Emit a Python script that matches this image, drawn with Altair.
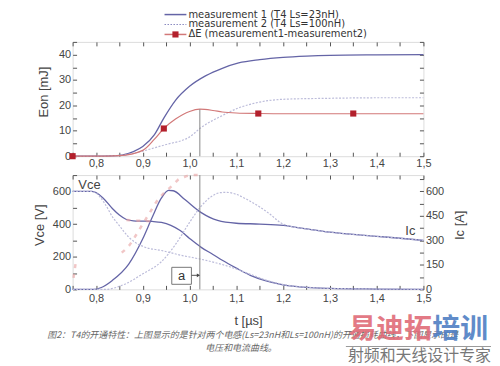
import altair as alt
import pandas as pd

# ---------------- data ----------------
# top panel: Eon [mJ]
e1_t = [0.75, 0.80, 0.83, 0.855, 0.88, 0.90, 0.925, 0.945, 0.97, 1.00, 1.035, 1.07, 1.105, 1.15, 1.20, 1.25, 1.30, 1.40, 1.50]
e1_v = [0, 0, 0.1, 0.4, 1.8, 3.8, 8.5, 15, 22, 27.5, 31.7, 34.6, 36.7, 38, 38.9, 39.4, 39.7, 39.9, 40]
e2_t = [0.75, 0.80, 0.85, 0.90, 0.925, 0.95, 1.00, 1.025, 1.07, 1.105, 1.15, 1.20, 1.30, 1.40, 1.50]
e2_v = [0, 0, 0.3, 2, 3.3, 4.6, 7.6, 11.3, 16, 19, 21.3, 22.4, 22.8, 23, 23]
de_t = [0.75, 0.80, 0.85, 0.90, 0.925, 0.945, 0.97, 1.00, 1.022, 1.05, 1.07, 1.10, 1.15, 1.20, 1.30, 1.40, 1.50]
de_v = [0, 0, 0.2, 2.3, 6.7, 10.9, 14.6, 17.6, 18.5, 18.0, 17.4, 17.0, 16.8, 16.7, 16.7, 16.7, 16.7]
dm_t = [0.75, 0.945, 1.147, 1.35]
dm_v = [0, 10.9, 16.8, 16.8]

# bottom panel: Vce [V], Ic [A]
v1_t = [0.75, 0.79, 0.80, 0.815, 0.835, 0.85, 0.865, 0.88, 0.90, 0.92, 0.94, 0.96, 0.98, 1.00, 1.025, 1.05, 1.07, 1.10, 1.13, 1.16, 1.20, 1.25, 1.30, 1.40, 1.50]
v1_v = [600, 600, 592, 560, 495, 455, 428, 420, 418, 416, 410, 392, 360, 312, 257, 214, 178, 130, 86, 55, 28, 12, 6, 2, 0]
v2_t = [0.75, 0.79, 0.80, 0.82, 0.835, 0.85, 0.87, 0.885, 0.905, 0.94, 0.98, 1.025, 1.06, 1.10, 1.13, 1.16, 1.20, 1.25, 1.30, 1.40, 1.50]
v2_v = [600, 600, 590, 520, 445, 390, 320, 285, 258, 238, 210, 184, 160, 125, 92, 60, 30, 13, 6, 2, 0]
i1_t = [0.75, 0.795, 0.81, 0.835, 0.87, 0.90, 0.92, 0.94, 0.955, 0.965, 0.99, 1.025, 1.06, 1.10, 1.15, 1.20, 1.25, 1.30, 1.35, 1.40, 1.45, 1.50]
i1_v = [0, 0, 10, 55, 155, 310, 440, 560, 606, 604, 550, 470, 422, 405, 400, 392, 370, 350, 337, 325, 313, 300]
i2_t = [0.75, 0.82, 0.86, 0.90, 0.94, 0.97, 1.00, 1.025, 1.045, 1.065, 1.08, 1.10, 1.12, 1.15, 1.17, 1.20, 1.25, 1.30, 1.40, 1.50]
i2_v = [0, 0, 30, 95, 170, 275, 410, 510, 565, 592, 594, 582, 555, 505, 465, 400, 370, 350, 325, 300]
# faint red trace (scatter) in the lower panel
r1_t = [0.855, 0.87, 0.885, 0.90, 0.915, 0.93, 0.945, 0.955, 0.965, 0.975, 0.99, 1.005, 1.02]
r1_v = [225, 265, 330, 400, 470, 540, 590, 615, 640, 670, 690, 700, 700]
r2_t = [0.865, 0.88, 0.895, 0.91, 0.925]
r2_v = [425, 422, 420, 418, 416]
r3_t = [0.752, 0.755, 0.758]
r3_v = [70, 130, 190]

# marker line "a"
a_t = [1.022]
a_top = [18.5]
a_low = [0, 700]
a_box_t = [0.962, 1.004]
a_box_v = [31, 135]
a_label_t = [0.983]
a_label_v = [83]
a_arrow_t = [1.004, 1.019]
a_arrow_v = [86]

# ticks
x_ticks = [0.75, 0.80, 0.85, 0.90, 0.95, 1.00, 1.05, 1.10, 1.15, 1.20, 1.25, 1.30, 1.35, 1.40, 1.45, 1.50]
e_ticks = [0, 5, 10, 15, 20, 25, 30, 35, 40, 45]
v_ticks = [0, 100, 200, 300, 400, 500, 600, 700]
i_ticks = [0, 75, 150, 225, 300, 375, 450, 525, 600, 675]

legend_names = ["measurement 1 (T4 Ls=23nH)", "measurement 2 (T4 Ls=100nH)", "\u0394E (measurement1-measurement2)"]
caption1 = "图2：T4的开通特性：上图显示的是针对两个电感(Ls=23nH和Ls=100nH)的开通损耗曲线，下图显示的是"
caption2 = "电压和电流曲线。"
wm_red = "易迪拓"
wm_blue = "培训"
wm_sub = "射频和天线设计专家"

# ---------------- styles ----------------
W, H = 353, 115
C1 = "#6464a6"
C2 = "#bcbcda"
CR = "#d27878"
CM = "#b3202c"
CRED_SCAT = "#e8a0a0"
FONT = "Liberation Sans"

xs = alt.Scale(domain=[0.75, 1.5], nice=False, zero=False)
ys_e = alt.Scale(domain=[0, 45], nice=False)
ys_v = alt.Scale(domain=[0, 700], nice=False)

x_lab = "(round(datum.value*100) % 10 == 0) ? replace(format(datum.value, '.1f'), '.', ',') : ''"

ax = dict(domain=False, grid=False, ticks=True, tickSize=4, offset=-4, tickColor="#555",
          labelColor="#444", labelFont=FONT, labelFontSize=11, labelFlush=False, titleFont=FONT,
          titleFontSize=13, titleColor="#444", titleFontWeight="normal")


def df(t, v):
    return pd.DataFrame({"t": t, "v": v})


def line(t, v, color, width=1.3, dash=None, xaxis=None, yaxis=None, yscale=None, opacity=1.0):
    kw = dict(color=color, strokeWidth=width, interpolate="monotone", opacity=opacity, clip=False)
    if dash:
        kw["strokeDash"] = dash
    return alt.Chart(df(t, v)).mark_line(**kw).encode(
        x=alt.X("t:Q", scale=xs, axis=xaxis),
        y=alt.Y("v:Q", scale=yscale, axis=yaxis),
    )


# ---------------- top panel ----------------
top_axes_a = line(e1_t, e1_v, C1,
                  xaxis=alt.Axis(orient="bottom", values=x_ticks, labelExpr=x_lab, title=None, labelPadding=1, **ax),
                  yaxis=alt.Axis(orient="left", values=e_ticks, title="Eon [mJ]", titlePadding=8, titleY=50,
                                 labelExpr="(datum.value % 10 == 0) ? datum.label : ''", **ax),
                  yscale=ys_e)
top_axes_b = line(e1_t, e1_v, C1, opacity=0,
                  xaxis=alt.Axis(orient="top", values=x_ticks, labels=False, title=None, **ax),
                  yaxis=alt.Axis(orient="right", values=e_ticks, labels=False, title=None, **ax),
                  yscale=ys_e)
top_m2 = line(e2_t, e2_v, C2, width=1.2, dash=[2, 1.5], yscale=ys_e)
top_de = line(de_t, de_v, CR, width=1.2, yscale=ys_e)
top_mk = alt.Chart(df(dm_t, dm_v)).mark_point(shape="square", filled=True, color=CM, size=38, opacity=1, clip=False).encode(
    x=alt.X("t:Q", scale=xs, axis=None), y=alt.Y("v:Q", scale=ys_e, axis=None))
top_rule = alt.Chart(pd.DataFrame({"t": a_t, "y0": [0], "y1": a_top})).mark_rule(color="#888", strokeWidth=1).encode(
    x=alt.X("t:Q", scale=xs, axis=None), y=alt.Y("y0:Q", scale=ys_e, axis=None), y2="y1:Q")

leg_df = pd.DataFrame({"name": legend_names})
LX0, LX1, LTX = 92.5, 114.5, 116.5
LY = [-27.5, -17.5, -7.5]
leg1 = alt.Chart(leg_df.iloc[[0]]).mark_rule(color=C1, strokeWidth=1.5).encode(
    x=alt.value(LX0), x2=alt.value(LX1), y=alt.value(LY[0]))
leg2 = alt.Chart(leg_df.iloc[[1]]).mark_rule(color="#8a8ac0", strokeWidth=1.2, strokeDash=[1.5, 1.5]).encode(
    x=alt.value(LX0), x2=alt.value(LX1), y=alt.value(LY[1]))
leg3 = alt.Chart(leg_df.iloc[[2]]).mark_rule(color=CR, strokeWidth=1.5).encode(
    x=alt.value(LX0), x2=alt.value(LX1), y=alt.value(LY[2]))
leg3m = alt.Chart(leg_df.iloc[[2]]).mark_point(shape="square", filled=True, color=CM, size=38, opacity=1).encode(
    x=alt.value((LX0 + LX1) / 2), y=alt.value(LY[2]))
leg_txt = [
    alt.Chart(leg_df.iloc[[i]]).mark_text(align="left", baseline="middle", font="DejaVu Sans", fontSize=10,
                                           color="#333").encode(x=alt.value(LTX), y=alt.value(LY[i]), text="name:N")
    for i in range(3)
]

top = alt.layer(top_axes_a, top_axes_b, top_m2, top_de, top_rule, top_mk,
                leg1, leg2, leg3, leg3m, *leg_txt).resolve_axis(x="independent", y="independent").properties(width=W, height=H)

# ---------------- bottom panel ----------------
bot_v1 = line(v1_t, v1_v, C1,
              xaxis=alt.Axis(orient="bottom", values=x_ticks, labelExpr=x_lab, title="t [µs]", labelPadding=3,
                             titlePadding=11, **ax),
              yaxis=alt.Axis(orient="left", values=v_ticks, title="Vce [V]", titlePadding=6, titleY=50,
                             labelExpr="(datum.value % 200 == 0) ? datum.label : ''", **ax),
              yscale=ys_v)
bot_i1 = line(i1_t, i1_v, C1,
              xaxis=alt.Axis(orient="top", values=x_ticks, labels=False, title=None, **ax),
              yaxis=alt.Axis(orient="right", values=i_ticks, title="Ic [A]", titleAngle=270, titleBaseline="top",
                             titlePadding=10, titleY=50,
                             labelExpr="(datum.value % 150 == 0) ? datum.label : ''", **ax),
              yscale=ys_v)
bot_v2 = line(v2_t, v2_v, C2, width=1.2, dash=[2, 1.5], yscale=ys_v)
bot_i2 = line(i2_t, i2_v, C2, width=1.2, dash=[2, 1.5], yscale=ys_v)
bot_r1 = line(r1_t, r1_v, CRED_SCAT, width=2.5, dash=[4, 6], yscale=ys_v, opacity=0.6)
bot_r2 = line(r2_t, r2_v, CRED_SCAT, width=2.5, dash=[4, 6], yscale=ys_v, opacity=0.6)
bot_r3 = line(r3_t, r3_v, CRED_SCAT, width=2.5, dash=[4, 6], yscale=ys_v, opacity=0.6)

bot_rule = alt.Chart(pd.DataFrame({"t": a_t, "y0": [a_low[0]], "y1": [a_low[1]]})).mark_rule(color="#888", strokeWidth=1).encode(
    x=alt.X("t:Q", scale=xs, axis=None), y=alt.Y("y0:Q", scale=ys_v, axis=None), y2="y1:Q")
bot_box = alt.Chart(pd.DataFrame({"t0": [a_box_t[0]], "t1": [a_box_t[1]], "v0": [a_box_v[0]], "v1": [a_box_v[1]]})).mark_rect(
    fill="white", stroke="#777", strokeWidth=1).encode(
    x=alt.X("t0:Q", scale=xs, axis=None), x2="t1:Q", y=alt.Y("v0:Q", scale=ys_v, axis=None), y2="v1:Q")
bot_alabel = alt.Chart(pd.DataFrame({"t": a_label_t, "v": a_label_v, "s": ["a"]})).mark_text(
    font=FONT, fontSize=13, color="#333", baseline="middle").encode(
    x=alt.X("t:Q", scale=xs, axis=None), y=alt.Y("v:Q", scale=ys_v, axis=None), text="s:N")
bot_arrow = alt.Chart(pd.DataFrame({"t0": [a_arrow_t[0]], "t1": [a_arrow_t[1]], "v": a_arrow_v})).mark_rule(
    color="#555", strokeWidth=1).encode(
    x=alt.X("t0:Q", scale=xs, axis=None), x2="t1:Q", y=alt.Y("v:Q", scale=ys_v, axis=None))
bot_head = alt.Chart(pd.DataFrame({"t": [a_arrow_t[1]], "v": a_arrow_v})).mark_point(
    shape="triangle-right", filled=True, color="#444", size=14, opacity=1).encode(
    x=alt.X("t:Q", scale=xs, axis=None), y=alt.Y("v:Q", scale=ys_v, axis=None))

ann = alt.Chart(pd.DataFrame({"t": [0.786, 1.472], "v": [640, 355], "s": ["Vce", "Ic"]})).mark_text(
    font=FONT, fontSize=13, color="#444", baseline="middle").encode(
    x=alt.X("t:Q", scale=xs, axis=None), y=alt.Y("v:Q", scale=ys_v, axis=None), text="s:N")

cap_df = pd.DataFrame({"a": [caption1], "b": [caption2], "r": [wm_red], "bl": [wm_blue], "s": [wm_sub]})
cap1 = alt.Chart(cap_df).mark_text(align="left", baseline="middle", font="Noto Sans CJK SC", fontSize=9,
                                   fontStyle="italic", color="#666", limit=440, ellipsis="").encode(
    x=alt.value(-25.5), y=alt.value(160.5), text="a:N")
cap2 = alt.Chart(cap_df).mark_text(align="center", baseline="middle", font="Noto Sans CJK SC", fontSize=9,
                                   fontStyle="italic", color="#666").encode(
    x=alt.value(169.5), y=alt.value(174.5), text="b:N")
wm1 = alt.Chart(cap_df).mark_text(align="left", baseline="middle", font="Noto Sans CJK SC", fontSize=28,
                                  fontWeight="bold", color="#e06c78", opacity=0.9).encode(
    x=alt.value(277.5), y=alt.value(156), text="r:N")
wm2 = alt.Chart(cap_df).mark_text(align="left", baseline="middle", font="Noto Sans CJK SC", fontSize=28,
                                  fontWeight="bold", color="#4f7fc4", opacity=0.9).encode(
    x=alt.value(362), y=alt.value(156), text="bl:N")
wm_line = alt.Chart(cap_df).mark_rule(color="#999", strokeWidth=1).encode(
    x=alt.value(275), x2=alt.value(421), y=alt.value(172.5))
wm3 = alt.Chart(cap_df).mark_text(align="left", baseline="middle", font="Noto Sans CJK SC", fontSize=16,
                                  color="#777").encode(
    x=alt.value(277), y=alt.value(182), text="s:N")

bottom = alt.layer(bot_v1, bot_i1, bot_v2, bot_i2, bot_r1, bot_r2, bot_r3, bot_rule, bot_box, bot_alabel,
                   bot_arrow, bot_head, ann, cap1, cap2, wm1, wm2, wm_line, wm3).resolve_axis(
    x="independent", y="independent").properties(width=W, height=H)

chart = alt.vconcat(top, bottom, spacing=0).properties(
    padding={"left": 25, "top": 0, "right": 0, "bottom": 0}
).configure_view(stroke="#555", strokeWidth=1).configure(background="white")

chart.save("out.html", embed_options={"renderer": "svg", "actions": False})
